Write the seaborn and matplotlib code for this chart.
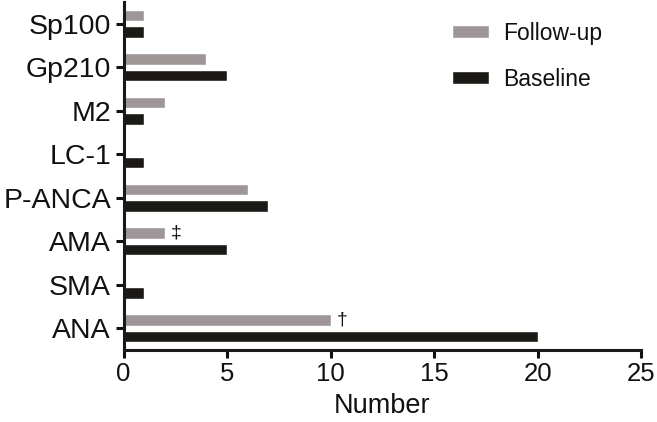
import seaborn as sns
import pandas as pd
import matplotlib.pyplot as plt

categories = ["Sp100", "Gp210", "M2", "LC-1", "P-ANCA", "AMA", "SMA", "ANA"]
follow_up = [1, 4, 2, 0, 6, 2, 0, 10]
baseline = [1, 5, 1, 1, 7, 5, 1, 20]
marks = {"AMA": "\u2021", "ANA": "\u2020"}

sns.set_style("ticks")
plt.rcParams["font.family"] = ["Liberation Sans", "DejaVu Sans"]
plt.rcParams["text.color"] = "#111111"
plt.rcParams["axes.labelcolor"] = "#111111"
plt.rcParams["xtick.color"] = "#111111"
plt.rcParams["ytick.color"] = "#111111"

data = pd.DataFrame({
    "marker": categories * 2,
    "Number": follow_up + baseline,
    "group": ["Follow-up"] * len(categories) + ["Baseline"] * len(categories),
})

fig = plt.figure(figsize=(6.57, 4.22), dpi=100)
ax = fig.add_axes([0.188, 0.171, 0.788, 0.824])
sns.barplot(data=data, x="Number", y="marker", hue="group",
            hue_order=["Follow-up", "Baseline"],
            palette=["#9f9797", "#1b1916"], width=0.76, gap=0.3,
            saturation=1, ax=ax)

ax.set_xlim(0, 25)
ax.set_xticks(range(0, 26, 5))
ax.set_ylim(len(categories) - 0.5, -0.5)
ax.set_ylabel("")
ax.set_xlabel("Number", fontsize=19.5, labelpad=5)
ax.tick_params(axis="x", labelsize=18.5, width=2.2, length=6, pad=3)
ax.tick_params(axis="y", labelsize=20.5, width=2.2, length=6, pad=3)
for s in ["top", "right"]:
    ax.spines[s].set_visible(False)
for s in ["left", "bottom"]:
    ax.spines[s].set_linewidth(2.2)
    ax.spines[s].set_color("#1b1916")

# significance marks next to follow-up bars
for i, cat in enumerate(categories):
    if cat in marks:
        bar = ax.containers[0][i]
        ax.text(bar.get_width() + 0.3, bar.get_y() + bar.get_height() / 2,
                marks[cat], fontsize=14, va="center", ha="left",
                family=["Liberation Sans", "DejaVu Sans"])

ax.legend(loc="upper left", bbox_to_anchor=(0.671, 0.975),
          bbox_transform=fig.transFigure, frameon=False, fontsize=16.5,
          handlelength=1.6, handleheight=0.5, handletextpad=0.6,
          labelspacing=1.0, borderpad=0)

plt.savefig("out.png", dpi=100)
